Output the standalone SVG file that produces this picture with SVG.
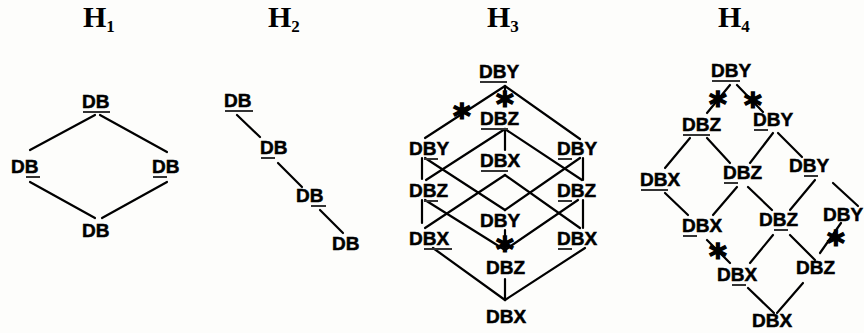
<svg xmlns="http://www.w3.org/2000/svg" width="864" height="333" viewBox="0 0 864 333">
<style>
.bg{fill:#fdfdfb}
.h{font-family:"Liberation Serif","Times New Roman",serif;font-weight:bold;fill:#000}
.hm{font-size:30px}
.hs{font-size:17px}
.n{font-family:"Liberation Sans",Arial,sans-serif;font-weight:bold;font-size:19px;fill:#000;stroke:#000;stroke-width:0.5}
.u{stroke:#333;stroke-width:2}
.c line{stroke:#000;stroke-width:2.2;stroke-linecap:round}
.s{font-family:"DejaVu Sans",sans-serif;font-weight:bold;font-size:34px;fill:#000;stroke:#000;stroke-width:1.4;text-anchor:middle}
</style>
<rect class="bg" x="0" y="0" width="864" height="333"/>

<g id="titles">
<text class="h" x="83" y="27"><tspan class="hm">H</tspan><tspan class="hs" dy="5">1</tspan></text>
<text class="h" x="268" y="27"><tspan class="hm">H</tspan><tspan class="hs" dy="5">2</tspan></text>
<text class="h" x="487" y="27"><tspan class="hm">H</tspan><tspan class="hs" dy="5">3</tspan></text>
<text class="h" x="718" y="27"><tspan class="hm">H</tspan><tspan class="hs" dy="5">4</tspan></text>
</g>

<g id="connectors" class="c">
<!-- H1 -->
<line x1="95" y1="115" x2="30" y2="150"/>
<line x1="100" y1="115" x2="167" y2="152"/>
<line x1="30" y1="182" x2="95" y2="218"/>
<line x1="167" y1="182" x2="102" y2="218"/>
<!-- H2 -->
<line x1="237" y1="115" x2="260" y2="137"/>
<line x1="278" y1="163" x2="302" y2="187"/>
<line x1="320" y1="210" x2="343" y2="233"/>
<!-- H3 -->
<line x1="505" y1="86" x2="425" y2="138"/>
<line x1="505" y1="86" x2="580" y2="139"/>
<line x1="505" y1="86" x2="505" y2="106"/>
<line x1="505" y1="129" x2="426" y2="180"/>
<line x1="505" y1="129" x2="505" y2="150"/>
<line x1="505" y1="129" x2="582" y2="180"/>
<line x1="422" y1="158" x2="422" y2="179"/>
<line x1="425" y1="158" x2="505" y2="210"/>
<line x1="580" y1="158" x2="505" y2="210"/>
<line x1="583" y1="158" x2="583" y2="180"/>
<line x1="505" y1="175" x2="425" y2="228"/>
<line x1="505" y1="175" x2="580" y2="228"/>
<line x1="422" y1="200" x2="422" y2="223"/>
<line x1="583" y1="200" x2="583" y2="228"/>
<line x1="425" y1="200" x2="505" y2="250"/>
<line x1="578" y1="200" x2="505" y2="250"/>
<line x1="505" y1="230" x2="505" y2="250"/>
<line x1="433" y1="248" x2="505" y2="300"/>
<line x1="585" y1="248" x2="505" y2="300"/>
<line x1="505" y1="279" x2="505" y2="300"/>
<!-- H4 -->
<line x1="730" y1="85" x2="707" y2="113"/>
<line x1="737" y1="85" x2="763" y2="112"/>
<line x1="690" y1="138" x2="665" y2="168"/>
<line x1="707" y1="138" x2="730" y2="163"/>
<line x1="773" y1="133" x2="750" y2="163"/>
<line x1="778" y1="133" x2="802" y2="157"/>
<line x1="665" y1="193" x2="688" y2="215"/>
<line x1="737" y1="187" x2="713" y2="215"/>
<line x1="748" y1="187" x2="772" y2="210"/>
<line x1="815" y1="180" x2="790" y2="210"/>
<line x1="833" y1="183" x2="858" y2="206"/>
<line x1="707" y1="240" x2="730" y2="263"/>
<line x1="773" y1="235" x2="750" y2="263"/>
<line x1="790" y1="235" x2="815" y2="260"/>
<line x1="841" y1="223" x2="820" y2="253"/>
<line x1="748" y1="288" x2="774" y2="313"/>
<line x1="803" y1="283" x2="777" y2="313"/>
</g>

<g id="stars">
<text class="s" x="462" y="128">*</text>
<text class="s" x="505" y="116">*</text>
<text class="s" x="505" y="261">*</text>
<text class="s" x="718" y="116">*</text>
<text class="s" x="753" y="117">*</text>
<text class="s" x="718" y="268">*</text>
<text class="s" x="836" y="255">*</text>
</g>

<!-- H1 nodes -->
<g id="h1-top"><text class="n" x="82" y="108">DB</text><line class="u" x1="83" y1="112" x2="110" y2="112"/></g>
<g id="h1-left"><text class="n" x="11" y="173">DB</text><line class="u" x1="26" y1="177" x2="40" y2="177"/></g>
<g id="h1-right"><text class="n" x="152" y="173">DB</text><line class="u" x1="153" y1="177" x2="167" y2="177"/></g>
<g id="h1-bottom"><text class="n" x="82" y="237">DB</text></g>

<!-- H2 nodes -->
<g id="h2-1"><text class="n" x="224" y="107">DB</text><line class="u" x1="225" y1="111" x2="253" y2="111"/></g>
<g id="h2-2"><text class="n" x="260" y="154">DB</text><line class="u" x1="261" y1="158" x2="275" y2="158"/></g>
<g id="h2-3"><text class="n" x="296" y="202">DB</text><line class="u" x1="311" y1="206" x2="326" y2="206"/></g>
<g id="h2-4"><text class="n" x="332" y="250">DB</text></g>

<!-- H3 nodes -->
<g id="h3-top"><text class="n" x="479" y="78">DBY</text><line class="u" x1="480" y1="82" x2="507" y2="82"/></g>
<g id="h3-dbz-top"><text class="n" x="480" y="125">DBZ</text><line class="u" x1="481" y1="129" x2="508" y2="129"/></g>
<g id="h3-dby-left"><text class="n" x="409" y="155">DBY</text><line class="u" x1="424" y1="159" x2="438" y2="159"/></g>
<g id="h3-dby-right"><text class="n" x="557" y="155">DBY</text><line class="u" x1="558" y1="159" x2="572" y2="159"/></g>
<g id="h3-dbx-mid"><text class="n" x="480" y="167">DBX</text><line class="u" x1="481" y1="171" x2="508" y2="171"/></g>
<g id="h3-dbz-left"><text class="n" x="409" y="197">DBZ</text><line class="u" x1="424" y1="201" x2="438" y2="201"/></g>
<g id="h3-dbz-right"><text class="n" x="557" y="197">DBZ</text><line class="u" x1="558" y1="201" x2="572" y2="201"/></g>
<g id="h3-dby-low"><text class="n" x="480" y="227">DBY</text></g>
<g id="h3-dbx-left"><text class="n" x="409" y="245">DBX</text><line class="u" x1="424" y1="249" x2="452" y2="249"/></g>
<g id="h3-dbx-right"><text class="n" x="557" y="245">DBX</text><line class="u" x1="558" y1="249" x2="572" y2="249"/></g>
<g id="h3-dbz-bottom"><text class="n" x="486" y="274">DBZ</text></g>
<g id="h3-dbx-bottom"><text class="n" x="486" y="323">DBX</text></g>

<!-- H4 nodes -->
<g id="h4-top"><text class="n" x="711" y="77">DBY</text><line class="u" x1="712" y1="81" x2="740" y2="81"/></g>
<g id="h4-dbz-2"><text class="n" x="682" y="131">DBZ</text><line class="u" x1="683" y1="135" x2="710" y2="135"/></g>
<g id="h4-dby-2"><text class="n" x="753" y="126">DBY</text><line class="u" x1="754" y1="130" x2="768" y2="130"/></g>
<g id="h4-dbx-3"><text class="n" x="640" y="186">DBX</text><line class="u" x1="641" y1="190" x2="668" y2="190"/></g>
<g id="h4-dbz-3"><text class="n" x="723" y="179">DBZ</text><line class="u" x1="724" y1="183" x2="738" y2="183"/></g>
<g id="h4-dby-3"><text class="n" x="789" y="172">DBY</text><line class="u" x1="804" y1="176" x2="818" y2="176"/></g>
<g id="h4-dbx-4"><text class="n" x="682" y="232">DBX</text><line class="u" x1="683" y1="236" x2="697" y2="236"/></g>
<g id="h4-dbz-4"><text class="n" x="759" y="226">DBZ</text><line class="u" x1="774" y1="230" x2="788" y2="230"/></g>
<g id="h4-dby-4"><text class="n" x="823" y="221">DBY</text></g>
<g id="h4-dbx-5"><text class="n" x="717" y="281">DBX</text><line class="u" x1="732" y1="285" x2="746" y2="285"/></g>
<g id="h4-dbz-5"><text class="n" x="796" y="274">DBZ</text></g>
<g id="h4-dbx-bottom"><text class="n" x="752" y="327">DBX</text></g>
</svg>
